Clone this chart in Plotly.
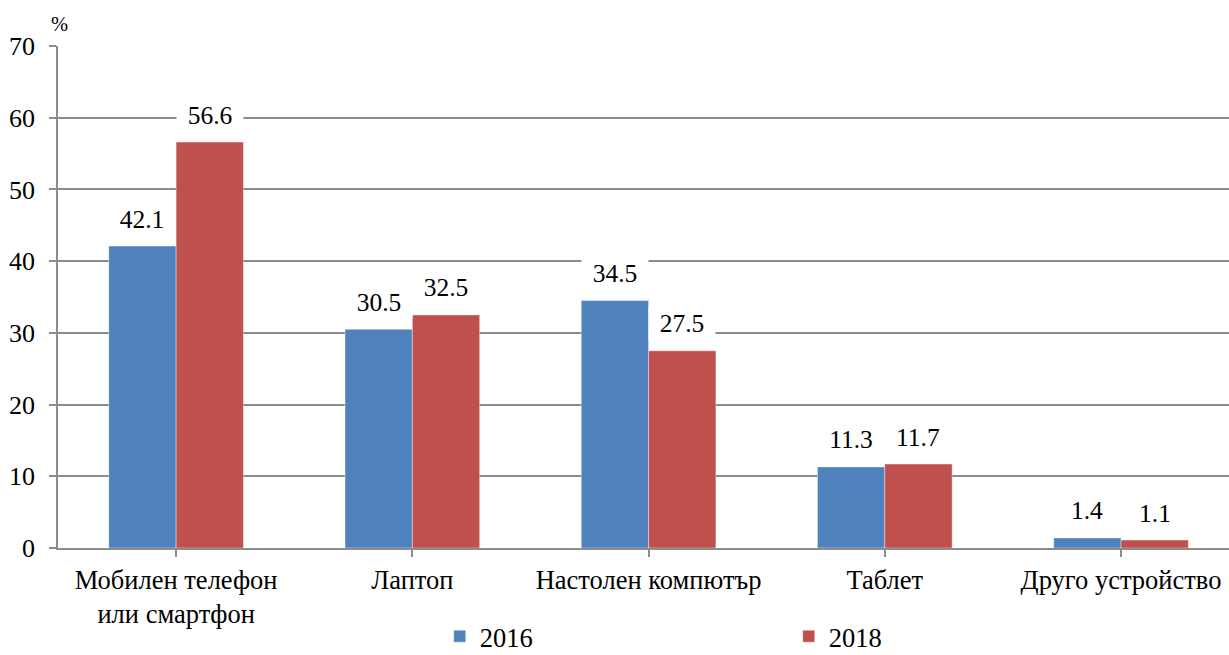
import plotly.graph_objects as go

categories = ["Мобилен телефон<br>или смартфон", "Лаптоп", "Настолен компютър", "Таблет", "Друго устройство"]
series_names = ["2016", "2018"]
values_2016 = [42.1, 30.5, 34.5, 11.3, 1.4]
values_2018 = [56.6, 32.5, 27.5, 11.7, 1.1]
colors = ["#4F81BD", "#C0504D"]
y_ticks = [0, 10, 20, 30, 40, 50, 60, 70]

FONT = "Liberation Serif, Times New Roman, serif"
bargap = 0.43

fig = go.Figure()
for name, vals, col in zip(series_names, [values_2016, values_2018], colors):
    fig.add_trace(go.Bar(
        x=list(range(len(categories))), y=vals, name=name,
        marker=dict(color=col, line=dict(color="rgba(255,255,255,0.5)", width=0.8)),
    ))

annotations = []
half = (1 - bargap) / 4
for k, vals in enumerate([values_2016, values_2018]):
    off = -half if k == 0 else half
    for i, v in enumerate(vals):
        annotations.append(dict(
            x=i + off, y=v, xref="x", yref="y", text=f"{v:.1f}",
            showarrow=False, yanchor="middle", yshift=27,
            font=dict(family=FONT, size=25.5, color="#000000"),
            bgcolor="white", width=64, borderpad=1,
        ))
annotations.append(dict(
    x=0, y=1.044, xref="paper", yref="paper", text="%", showarrow=False,
    xanchor="left", yanchor="middle", xshift=-9,
    font=dict(family=FONT, size=20.5, color="#000000"),
))

fig.update_layout(
    width=1229, height=655,
    margin=dict(l=58, r=0, t=46, b=107, autoexpand=False),
    paper_bgcolor="white", plot_bgcolor="white",
    barmode="group", bargap=bargap, bargroupgap=0,
    font=dict(family=FONT, size=25, color="#000000"),
    showlegend=True,
    legend=dict(
        orientation="h", x=0.326, xanchor="left", y=-0.224, yanchor="bottom",
        entrywidth=304, entrywidthmode="pixels", borderwidth=0,
        font=dict(family=FONT, size=26.5, color="#000000"),
    ),
    annotations=annotations,
)
fig.update_xaxes(
    tickmode="array", tickvals=list(range(len(categories))), ticktext=categories,
    range=[-0.5, 4.457], showgrid=False, showline=True, linecolor="#8c8c8c", linewidth=1.5,
    ticks="outside", ticklen=7, tickcolor="#8c8c8c", tickwidth=1.5,
    tickson="boundaries", tickfont=dict(family=FONT, size=26.5, color="#000000"),
    zeroline=False, fixedrange=True, automargin=False,
)
fig.update_yaxes(
    range=[0, 70], tickvals=y_ticks, showgrid=True, gridcolor="#8c8c8c", gridwidth=1.5,
    showline=True, linecolor="#8c8c8c", linewidth=1.5,
    ticks="outside", ticklen=7, tickcolor="#8c8c8c", tickwidth=1.5,
    tickfont=dict(family=FONT, size=26, color="#000000"),
    ticklabelstandoff=9, zeroline=False, fixedrange=True, automargin=False,
)

fig.write_html(
    "out.html",
    config={"displayModeBar": False},
    post_script="document.body.style.margin='0';document.body.style.overflow='hidden';",
)
